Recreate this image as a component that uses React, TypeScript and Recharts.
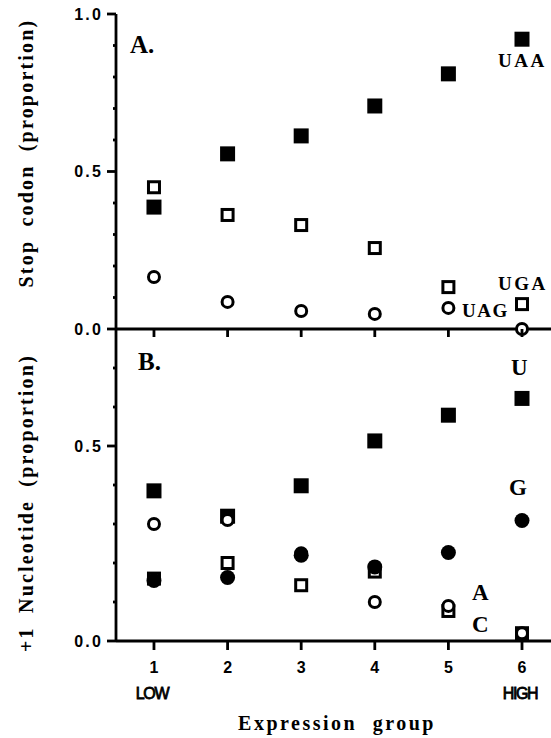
import React from "react";
import { ScatterChart, Scatter, XAxis, YAxis } from "recharts";

// expression groups 1 (low) .. 6 (high)
const groups = [1, 2, 3, 4, 5, 6];

// panel A: stop codon proportions
const stopUAA = [0.387, 0.556, 0.613, 0.708, 0.81, 0.92];
const stopUGA = [0.45, 0.362, 0.33, 0.257, 0.133, 0.079];
const stopUAG = [0.165, 0.086, 0.057, 0.048, 0.067, 0.0];

// panel B: +1 nucleotide proportions
const ntU = [0.385, 0.32, 0.398, 0.513, 0.579, 0.622];
const ntC = [0.16, 0.2, 0.143, 0.178, 0.077, 0.02];
const ntA = [0.3, 0.31, 0.225, 0.1, 0.09, 0.02];
const ntG = [0.155, 0.163, 0.22, 0.19, 0.227, 0.309];

const ticksA = [0, 0.1, 0.2, 0.3, 0.4, 0.5, 0.6, 0.7, 0.8, 0.9, 1.0];
const ticksB = [0, 0.1, 0.2, 0.3, 0.4, 0.5, 0.6, 0.7];
const groupLabels = ["LOW", "", "", "", "", "HIGH"];

const toPoints = (ys: number[]) => groups.map((x, i) => ({ x, y: ys[i] }));

const SERIF = "'Liberation Serif', 'DejaVu Serif', serif";
const SANS = "'Liberation Sans', Arial, sans-serif";
const AXIS_W = 2.8;

const FilledSquare = (p: any) => (
  <rect x={p.cx - 7.5} y={p.cy - 7.5} width={15} height={15} fill="#000" />
);
const OpenSquare = (p: any) => (
  <rect x={p.cx - 5.5} y={p.cy - 5.5} width={11} height={11} fill="#fff" stroke="#000" strokeWidth={3} />
);
const OpenCircle = (p: any) => (
  <circle cx={p.cx} cy={p.cy} r={5.5} fill="#fff" stroke="#000" strokeWidth={3} />
);
const FilledCircle = (p: any) => <circle cx={p.cx} cy={p.cy} r={7.5} fill="#000" />;

const isMajor = (v: number) => Math.abs(v * 2 - Math.round(v * 2)) < 1e-6;

const YTick = (props: any) => {
  const { x, y, payload } = props;
  const v = payload.value;
  const major = isMajor(v);
  return (
    <g>
      <line x1={x - (major ? 9 : 3)} x2={x} y1={y} y2={y} stroke="#000" strokeWidth={AXIS_W} />
      {major && (
        <text
          x={x - 13}
          y={y}
          dy="0.36em"
          textAnchor="end"
          fontFamily={SANS}
          fontWeight="bold"
          fontSize={16}
          letterSpacing={2.2}
          fill="#000"
        >
          {v.toFixed(1)}
        </text>
      )}
    </g>
  );
};

const XTickLine = (props: any) => (
  <line x1={props.x} x2={props.x} y1={props.y} y2={props.y + 8} stroke="#000" strokeWidth={AXIS_W} />
);

const XTick = (props: any) => {
  const { x, y, payload } = props;
  const extra = groupLabels[groups.indexOf(payload.value)];
  return (
    <g>
      <line x1={x} x2={x} y1={y} y2={y + 9} stroke="#000" strokeWidth={AXIS_W} />
      <text x={x} y={y + 32} textAnchor="middle" fontFamily={SANS} fontWeight="bold" fontSize={16} fill="#000">
        {payload.value}
      </text>
      {extra && (
        <text
          x={x - 2}
          y={y + 58}
          textAnchor="middle"
          fontFamily={SANS}
          fontSize={16}
          letterSpacing={-1.4}
          fill="#000"
          stroke="#000"
          strokeWidth={0.8}
        >
          {extra}
        </text>
      )}
    </g>
  );
};

const xDomain = [0.484, 6.394];

export default function App() {
  const serifText = {
    fontFamily: SERIF,
    fontWeight: "bold" as const,
    fill: "#000",
  };
  return (
    <div style={{ position: "absolute", left: 0, top: 0, width: 551, height: 738, background: "#fff" }}>
      <div style={{ position: "absolute", left: 0, top: 0 }}>
        <ScatterChart width={551} height={345} margin={{ top: 14, right: 0, bottom: 0, left: 0 }}>
          <XAxis
            xAxisId="top"
            orientation="top"
            type="number"
            dataKey="x"
            domain={xDomain}
            height={0}
            tick={false}
            tickLine={false}
            axisLine={{ stroke: "#000", strokeWidth: AXIS_W }}
          />
          <XAxis
            type="number"
            dataKey="x"
            domain={xDomain}
            ticks={groups}
            height={16}
            tickSize={0}
            tickMargin={0}
            tickLine={false}
            tick={<XTickLine />}
            axisLine={{ stroke: "#000", strokeWidth: AXIS_W }}
            allowDataOverflow
          />
          <YAxis
            type="number"
            dataKey="y"
            domain={[0, 1]}
            ticks={ticksA}
            width={116}
            tickSize={0}
            tickMargin={0}
            tickLine={false}
            tick={<YTick />}
            axisLine={{ stroke: "#000", strokeWidth: AXIS_W }}
            interval={0}
          />
          <Scatter data={toPoints(stopUAA)} shape={FilledSquare} isAnimationActive={false} />
          <Scatter data={toPoints(stopUGA)} shape={OpenSquare} isAnimationActive={false} />
          <Scatter data={toPoints(stopUAG)} shape={OpenCircle} isAnimationActive={false} />
        </ScatterChart>
      </div>
      <div style={{ position: "absolute", left: 0, top: 329 }}>
        <ScatterChart width={551} height={409} margin={{ top: 0, right: 0, bottom: 0, left: 0 }}>
          <XAxis
            type="number"
            dataKey="x"
            domain={xDomain}
            ticks={groups}
            height={97}
            tickSize={0}
            tickMargin={0}
            tickLine={false}
            tick={<XTick />}
            axisLine={{ stroke: "#000", strokeWidth: AXIS_W }}
            interval={0}
          />
          <YAxis
            type="number"
            dataKey="y"
            domain={[0, 0.8]}
            ticks={ticksB}
            width={116}
            tickSize={0}
            tickMargin={0}
            tickLine={false}
            tick={<YTick />}
            axisLine={{ stroke: "#000", strokeWidth: AXIS_W }}
            interval={0}
          />
          <Scatter data={toPoints(ntU)} shape={FilledSquare} isAnimationActive={false} />
          <Scatter data={toPoints(ntC)} shape={OpenSquare} isAnimationActive={false} />
          <Scatter data={toPoints(ntA)} shape={OpenCircle} isAnimationActive={false} />
          <Scatter data={toPoints(ntG)} shape={FilledCircle} isAnimationActive={false} />
        </ScatterChart>
      </div>
      <svg
        width={551}
        height={738}
        style={{ position: "absolute", left: 0, top: 0, pointerEvents: "none" }}
      >
        <text {...serifText} x={130} y={53} fontSize={25}>A.</text>
        <text {...serifText} x={138} y={370} fontSize={25}>B.</text>

        <text {...serifText} x={498} y={67} fontSize={19} letterSpacing={2.5}>UAA</text>
        <text {...serifText} x={498} y={290} fontSize={19} letterSpacing={2.5}>UGA</text>
        <text {...serifText} x={462} y={317} fontSize={19} letterSpacing={1.5}>UAG</text>

        <text {...serifText} x={511} y={375} fontSize={23}>U</text>
        <text {...serifText} x={509} y={495} fontSize={23}>G</text>
        <text {...serifText} x={472} y={600} fontSize={23}>A</text>
        <text {...serifText} x={472} y={632} fontSize={23}>C</text>

        <text
          {...serifText}
          fontSize={20}
          letterSpacing={2.2}
          wordSpacing={6}
          textAnchor="middle"
          transform="translate(33,153) rotate(-90)"
        >
          Stop codon (proportion)
        </text>
        <text
          {...serifText}
          fontSize={20}
          letterSpacing={2.2}
          wordSpacing={6}
          textAnchor="middle"
          transform="translate(33,503) rotate(-90)"
        >
          +1 Nucleotide (proportion)
        </text>
        <text
          {...serifText}
          x={337}
          y={730}
          fontSize={20}
          letterSpacing={2.5}
          wordSpacing={8}
          textAnchor="middle"
        >
          Expression group
        </text>
      </svg>
    </div>
  );
}
